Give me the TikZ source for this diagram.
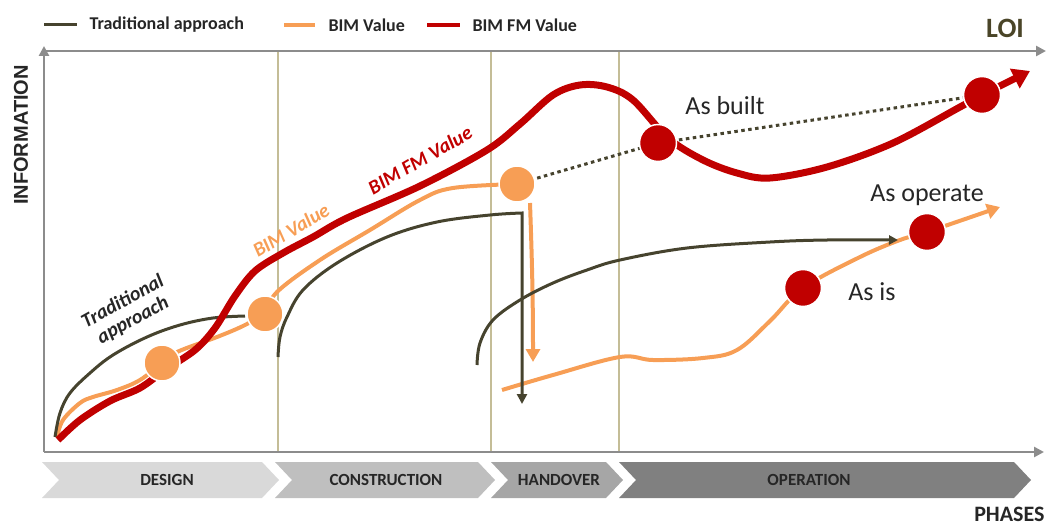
\documentclass[tikz,border=0pt]{standalone}
\usepackage{fontspec}
\setmainfont{Carlito}
\newfontfamily\infofont{Liberation Sans}
\usetikzlibrary{arrows.meta}

\definecolor{tradcol}{HTML}{46432E}
\definecolor{bimcol}{HTML}{F79E55}
\definecolor{fmcol}{HTML}{C00000}
\definecolor{axisgray}{HTML}{8C8C8C}
\definecolor{khaki}{HTML}{C4BD97}
\definecolor{darktext}{HTML}{262626}
\definecolor{loicol}{HTML}{4A4528}
\definecolor{phaseA}{HTML}{D9D9D9}
\definecolor{phaseB}{HTML}{BFBFBF}
\definecolor{phaseC}{HTML}{A6A6A6}
\definecolor{phaseD}{HTML}{808080}

\tikzset{
  axisline/.style={draw=axisgray, line width=2.5pt, -{Triangle[width=10pt,length=10pt]}},
  divider/.style={draw=khaki, line width=1.5pt},
  tradline/.style={draw=tradcol, line width=3pt},
  bimline/.style={draw=bimcol, line width=4pt},
  fmline/.style={draw=fmcol, line width=7pt},
  infodots/.style={draw=tradcol, line width=3pt, dash pattern=on 3.5pt off 3.5pt},
  bimdot/.style={circle, fill=bimcol, draw=white, line width=1.5pt, minimum size=36pt, inner sep=0pt},
  fmdot/.style={circle, fill=fmcol, draw=white, line width=1.5pt, minimum size=37pt, inner sep=0pt},
  phasetext/.style={font=\fontsize{17}{19}\selectfont\bfseries, text=darktext},
  curvelabel/.style={font=\fontsize{20}{21}\selectfont\bfseries\itshape, align=center},
  marklabel/.style={font=\fontsize{26}{28}\selectfont, text=darktext},
  legendtext/.style={font=\fontsize{18}{20}\selectfont\bfseries, text=darktext, anchor=west}
}

\begin{document}
\begin{tikzpicture}[x=1pt, y=-1pt]
\useasboundingbox (0,0) rectangle (1051,527);

% legend
\draw[tradline] (44,25) -- (77,25);
\node[legendtext] (lgTrad) at (86,25) {Traditional approach};
\draw[bimline, line width=3.5pt] (284,25) -- (315,25);
\node[legendtext] (lgBim) at (325,25) {BIM Value};
\draw[fmline, line width=3.5pt] (427,25) -- (460,25);
\node[legendtext] (lgFm) at (469,25) {BIM FM Value};

% axes
\coordinate (origin) at (44,452);
\coordinate (corner) at (44,51);
\coordinate (ytop) at (44,46);
\coordinate (loiend) at (1046,51);
\coordinate (xend) at (1044,452);
\foreach \x in {278,491,619}
  \draw[divider] (\x,51) -- (\x,452);
\draw[axisline] (origin) -- (ytop);
\draw[axisline] (corner) -- (loiend);
\draw[axisline] (origin) -- (xend);

\node[font=\infofont\fontsize{20}{22}\selectfont\bfseries, text=darktext, rotate=90] (info) at (21,135) {INFORMATION};
\node[font=\fontsize{28}{30}\selectfont\bfseries, text=loicol] (loi) at (1005,28) {LOI};
\node[font=\fontsize{22}{24}\selectfont\bfseries, text=darktext, anchor=east] (phases) at (1048,514) {PHASES};

% phases
\foreach \a/\b/\t/\col/\name in {42/279/167/phaseA/DESIGN, 275/495/386/phaseB/CONSTRUCTION, 491/623/559/phaseC/HANDOVER, 619/1031/809/phaseD/OPERATION} {
  \fill[\col] (\a,462) -- ({\b-17},462) -- (\b,480) -- ({\b-17},498) -- (\a,498) -- ({\a+17},480) -- cycle;
  \node[phasetext] (ph\name) at (\t,480) {\name};
}

% dot positions
\coordinate (cA) at (162,363);
\coordinate (cB) at (265,314);
\coordinate (cC) at (517,184);
\coordinate (cD) at (658,143);
\coordinate (cE) at (982,95);
\coordinate (cF) at (803,288);
\coordinate (cG) at (927,232);

% BIM value
\draw[bimline] plot[smooth, tension=.6] coordinates {(57,437) (63,420) (80,403) (93,397) (117,390) (140,380) (cA) (177,352) (217,337) (243,326) (cB)};
\draw[bimline] plot[smooth, tension=.6] coordinates {(cB) (277,292) (320,260) (370,230) (420,200) (453,188) (cC)};
\draw[bimline, -{Triangle[width=14pt,length=13pt]}] (530,203) .. controls (532,260) and (533,300) .. (533,362);
\draw[bimline, -{Triangle[width=15pt,length=13pt]}] plot[smooth, tension=.6] coordinates {(502,390) (553,375) (620,357) (653,360) (703,358) (737,350) (770,321) (cF) (860,257) (900,240) (cG) (1000,207)};

% traditional approach
\draw[tradline] plot[smooth, tension=.6] coordinates {(55,437) (60,413) (70,393) (90,373) (113,355) (147,337) (180,325) (213,318) (245,316)};
\draw[tradline, -{Triangle[width=10pt,length=10pt]}] plot[smooth, tension=.6] coordinates {(278,357) (280,337) (287,317) (303,290) (337,263) (387,237) (437,222) (490,215) (522,213)} -- (522,404);
\draw[tradline, -{Triangle[width=9pt,length=9pt]}] plot[smooth, tension=.6] coordinates {(477,365) (480,343) (493,320) (520,300) (553,283) (587,270) (620,260) (687,248) (770,242) (827,240) (898,240)};

% BIM FM value
\draw[fmline, -{Triangle[width=21pt,length=17pt]}] plot[smooth, tension=.55] coordinates {(58,440) (80,420) (110,401) (140,388) (165,370) (195,350) (215,328) (235,296) (255,271) (283,253) (313,237) (347,218) (420,186) (487,150) (520,124) (553,95) (580,85) (607,87) (633,100) (668,138) (703,160) (737,173) (770,178) (827,167) (893,143) (960,107) (cE) (1030,71)};

% dotted link
\draw[infodots] (cC) -- (cD) -- (cE);

% dots
\node[bimdot] (dA) at (cA) {};
\node[bimdot] (dB) at (cB) {};
\node[bimdot] (dC) at (cC) {};
\node[fmdot] (dD) at (cD) {};
\node[fmdot] (dE) at (cE) {};
\node[fmdot] (dF) at (cF) {};
\node[fmdot] (dG) at (cG) {};

% labels
\node[curvelabel, text=darktext, rotate=29] (lbTrad) at (128,311) {Traditional\\approach};
\node[curvelabel, text=bimcol, rotate=31] (lbBim) at (291,230) {BIM Value};
\node[curvelabel, text=fmcol, rotate=30] (lbFm) at (420,160) {BIM FM Value};
\node[marklabel] (asBuilt) at (725,106) {As built};
\node[marklabel] (asOperate) at (927,195) {As operate};
\node[marklabel] (asIs) at (872,292) {As is};
\end{tikzpicture}
\end{document}
